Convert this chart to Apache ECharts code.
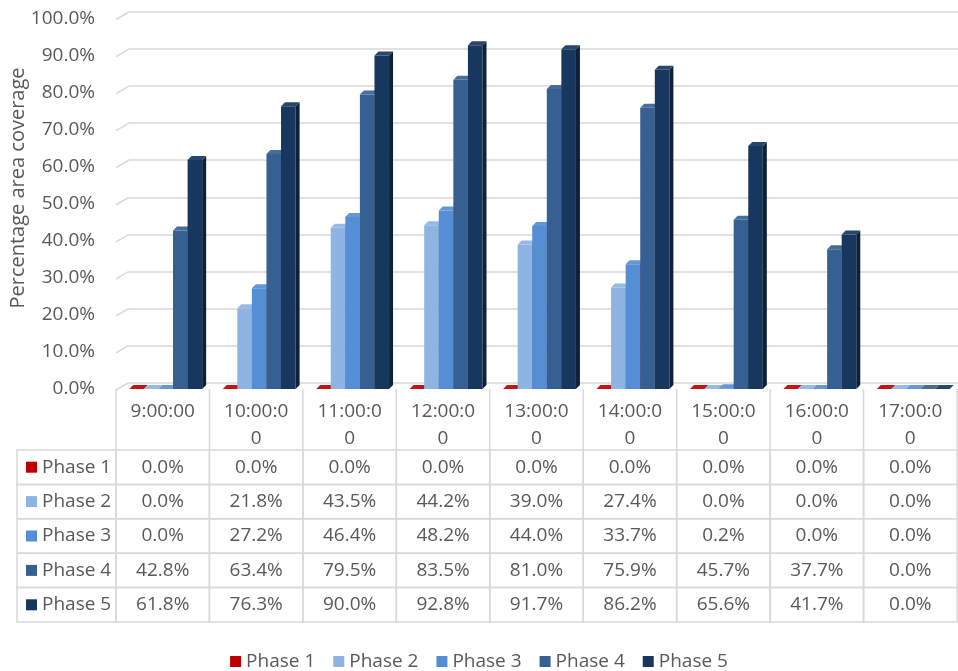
<!DOCTYPE html>
<html>
<head>
<meta charset="utf-8">
<title>Percentage area coverage</title>
<script src="https://cdn.jsdelivr.net/npm/echarts@6/dist/echarts.min.js"></script>
<style>
  html, body { margin: 0; padding: 0; background: #fff; }
  #chart { width: 958px; height: 671px; }
</style>
</head>
<body>
<div id="chart"></div>
<script>
// data (percent)
const times = ['9:00:00', '10:00:00', '11:00:00', '12:00:00', '13:00:00', '14:00:00', '15:00:00', '16:00:00', '17:00:00']
const phaseNames = ['Phase 1', 'Phase 2', 'Phase 3', 'Phase 4', 'Phase 5']
const phase1 = [0.0, 0.0, 0.0, 0.0, 0.0, 0.0, 0.0, 0.0, 0.0]
const phase2 = [0.0, 21.8, 43.5, 44.2, 39.0, 27.4, 0.0, 0.0, 0.0]
const phase3 = [0.0, 27.2, 46.4, 48.2, 44.0, 33.7, 0.2, 0.0, 0.0]
const phase4 = [42.8, 63.4, 79.5, 83.5, 81.0, 75.9, 45.7, 37.7, 0.0]
const phase5 = [61.8, 76.3, 90.0, 92.8, 91.7, 86.2, 65.6, 41.7, 0.0]
const yTicks = [0, 10, 20, 30, 40, 50, 60, 70, 80, 90, 100]

const phaseValues = [phase1, phase2, phase3, phase4, phase5]
const phaseColors = ['#c00000', '#8eb4e3', '#558ed5', '#376092', '#17375e']

const FONT = '"Open Sans", "Liberation Sans", sans-serif'
const FS = 19
const TEXT = '#595959'
const LINE = '#d9d9d9'
const DEPTH = 4

const chart = echarts.init(document.getElementById('chart'))

// mix a hex colour towards black (k < 0) or white (k > 0)
function shade(hex, k) {
  const n = parseInt(hex.slice(1), 16)
  const ch = [(n >> 16) & 255, (n >> 8) & 255, n & 255].map(v =>
    Math.round(k < 0 ? v * (1 + k) : v + (255 - v) * k))
  return 'rgb(' + ch.join(',') + ')'
}

function barRenderer(p) {
  const color = phaseColors[p]
  const side = shade(color, -0.4)
  const topc = shade(color, 0.08)
  return function (params, api) {
    const c = api.value(0)
    const top = api.coord([c, api.value(1)])
    const base = api.coord([c, 0])
    const band = api.size([1, 0])[0]
    const w = band * 0.156
    const x = top[0] - 2.5 * w + 3 + p * w
    const y = top[1]
    return {
      type: 'group',
      children: [
        { type: 'rect', shape: { x: x, y: y, width: w, height: base[1] - y }, style: { fill: color } },
        {
          type: 'polygon',
          shape: { points: [[x + w, y], [x + w + DEPTH, y - DEPTH], [x + w + DEPTH, base[1] - DEPTH], [x + w, base[1]]] },
          style: { fill: side }
        },
        {
          type: 'polygon',
          shape: { points: [[x, y], [x + DEPTH, y - DEPTH], [x + w + DEPTH, y - DEPTH], [x + w, y]] },
          style: { fill: topc }
        }
      ]
    }
  }
}

// slanted ends of the gridlines on the left wall
function wallRenderer(params, api) {
  const y = api.coord([0, api.value(1)])[1]
  const x = params.coordSys.x
  return {
    type: 'line',
    shape: { x1: x, y1: y + 1, x2: x + 13, y2: y - 6.5 },
    style: { stroke: LINE, lineWidth: 1.5 }
  }
}

function cellRenderer(params, api) {
  const c = api.value(0)
  const p = api.value(1)
  const v = api.value(2)
  const pt = api.coord([c, p])
  const size = api.size([1, 1])
  const x = pt[0] - size[0] / 2
  const y = pt[1] - size[1] / 2
  const cs = params.coordSys
  const border = { fill: 'none', stroke: LINE, lineWidth: 1.5 }
  const kids = [
    { type: 'rect', shape: { x: x, y: y, width: size[0], height: size[1] }, style: border },
    {
      type: 'text', x: pt[0], y: pt[1],
      style: { text: v.toFixed(1) + '%', align: 'center', verticalAlign: 'middle', fontSize: FS, fontFamily: FONT, fill: TEXT }
    }
  ]
  if (c === 0) {
    kids.push({ type: 'rect', shape: { x: 17, y: y, width: x - 17, height: size[1] }, style: border })
  }
  if (p === 0) {
    kids.push({ type: 'line', shape: { x1: x, y1: cs.y - 61, x2: x, y2: cs.y }, style: border })
    if (c === times.length - 1) {
      kids.push({ type: 'line', shape: { x1: x + size[0], y1: cs.y - 61, x2: x + size[0], y2: cs.y }, style: border })
    }
  }
  return { type: 'group', children: kids }
}

const tableData = []
phaseValues.forEach((vals, p) => {
  vals.forEach((v, c) => tableData.push([c, p, v]))
})

const rich = { t: { fontSize: FS, fontFamily: FONT, color: TEXT, padding: [0, 0, 0, 5] } }
phaseColors.forEach((col, i) => {
  rich['s' + i] = { width: 11, height: 11, backgroundColor: col }
})

const option = {
  animation: false,
  textStyle: { fontFamily: FONT },
  grid: [
    { left: 116, right: 1, top: 18.5, bottom: 282 },
    { left: 129, right: 0, top: 12, bottom: 288.5 },
    { left: 116, right: 1, top: 450, bottom: 49 }
  ],
  xAxis: [
    {
      gridIndex: 0, type: 'category', data: times,
      axisLine: { show: false }, axisTick: { show: false },
      axisLabel: {
        interval: 0, margin: 9, fontSize: FS, lineHeight: 27, color: TEXT,
        formatter: v => v.length > 7 ? v.slice(0, 7) + '\n' + v.slice(7) : v
      }
    },
    { gridIndex: 1, type: 'category', data: times, show: false },
    { gridIndex: 2, type: 'category', data: times, show: false }
  ],
  yAxis: [
    {
      gridIndex: 0, type: 'value', min: 0, max: 100, interval: 10,
      axisLine: { show: false }, axisTick: { show: false }, splitLine: { show: false },
      axisLabel: { margin: 21, fontSize: FS, color: TEXT, formatter: v => v.toFixed(1) + '%' }
    },
    {
      gridIndex: 1, type: 'value', min: 0, max: 100, interval: 10,
      axisLine: { show: false }, axisTick: { show: false }, axisLabel: { show: false },
      splitLine: { lineStyle: { color: LINE, width: 1.5 } }
    },
    {
      gridIndex: 2, type: 'category', data: phaseNames, inverse: true,
      axisLine: { show: false }, axisTick: { show: false },
      axisLabel: {
        align: 'left', margin: 90,
        formatter: (v, i) => '{s' + i + '|}{t|' + v + '}',
        rich: rich
      }
    }
  ],
  legend: {
    data: phaseNames,
    top: 647,
    icon: 'rect',
    itemWidth: 11,
    itemHeight: 11,
    itemGap: 18,
    textStyle: { fontSize: FS, color: TEXT, fontFamily: FONT }
  },
  graphic: [
    {
      type: 'text', x: 18, y: 188, rotation: Math.PI / 2,
      style: { text: 'Percentage area coverage', align: 'center', verticalAlign: 'middle', fontSize: 20, fontFamily: FONT, fill: TEXT }
    }
  ],
  series: [
    {
      type: 'custom', xAxisIndex: 0, yAxisIndex: 0, silent: true,
      renderItem: wallRenderer,
      data: yTicks.map(t => [0, t]),
      z: 1
    },
    ...phaseNames.map((name, p) => ({
      name: name,
      type: 'custom',
      xAxisIndex: 0,
      yAxisIndex: 0,
      itemStyle: { color: phaseColors[p] },
      renderItem: barRenderer(p),
      data: phaseValues[p].map((v, c) => [c, v])
    })),
    {
      type: 'custom', xAxisIndex: 2, yAxisIndex: 2, silent: true,
      renderItem: cellRenderer,
      data: tableData
    }
  ]
}

chart.setOption(option)
</script>
</body>
</html>
